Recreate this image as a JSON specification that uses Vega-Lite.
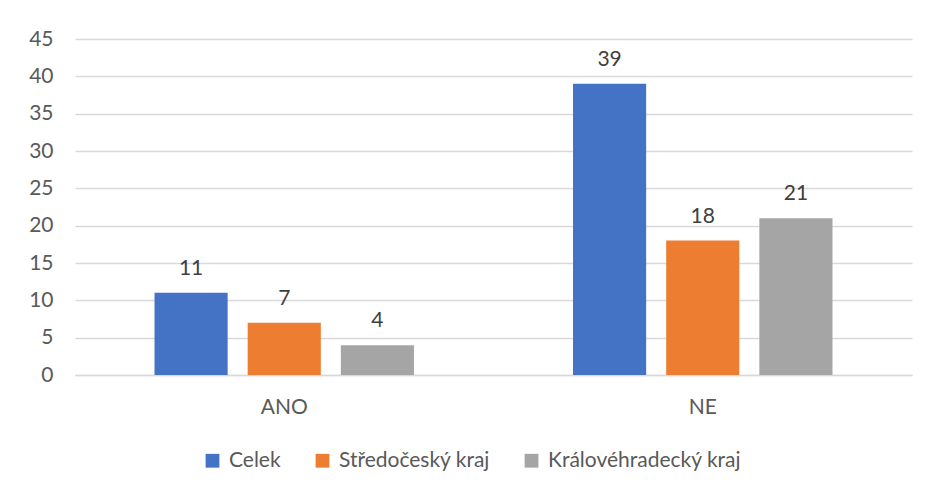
{
  "$schema": "https://vega.github.io/schema/vega-lite/v6.json",
  "autosize": "none",
  "width": 837,
  "height": 336,
  "padding": {"left": 75, "top": 39, "right": 16, "bottom": 115},
  "background": "white",
  "config": {
    "view": {"stroke": null},
    "font": "Lato",
    "axis": {"labelFont": "Lato", "labelColor": "#595959", "labelFontSize": 21, "ticks": false, "domain": false}
  },
  "data": {"values": [
    {"kat": "ANO", "serie": "Celek", "hodnota": 11},
    {"kat": "ANO", "serie": "Středočeský kraj", "hodnota": 7},
    {"kat": "ANO", "serie": "Královéhradecký kraj", "hodnota": 4},
    {"kat": "NE", "serie": "Celek", "hodnota": 39},
    {"kat": "NE", "serie": "Středočeský kraj", "hodnota": 18},
    {"kat": "NE", "serie": "Královéhradecký kraj", "hodnota": 21}
  ]},
  "encoding": {
    "x": {"field": "kat", "type": "nominal", "sort": ["ANO", "NE"],
      "scale": {"paddingInner": 0.38, "paddingOuter": 0.19},
      "axis": {"title": null, "labelAngle": 0, "labelPadding": 21, "domain": true, "domainColor": "#d9d9d9", "domainWidth": 1.5}},
    "xOffset": {"field": "serie", "type": "nominal", "sort": ["Celek", "Středočeský kraj", "Královéhradecký kraj"],
      "scale": {"paddingInner": 0.215, "paddingOuter": 0}},
    "y": {"field": "hodnota", "type": "quantitative",
      "scale": {"domain": [0, 45], "nice": false},
      "axis": {"title": null, "values": [0, 5, 10, 15, 20, 25, 30, 35, 40, 45], "gridColor": "#d9d9d9", "gridWidth": 1.5, "labelPadding": 22}}
  },
  "layer": [
    {
      "mark": {"type": "bar"},
      "encoding": {
        "color": {"field": "serie", "type": "nominal", "sort": ["Celek", "Středočeský kraj", "Královéhradecký kraj"],
          "scale": {"domain": ["Celek", "Středočeský kraj", "Královéhradecký kraj"], "range": ["#4472C4", "#ED7D31", "#A5A5A5"]},
          "legend": {"title": null, "orient": "none", "legendX": 127, "legendY": 411, "direction": "horizontal", "symbolType": "square", "symbolSize": 190,
            "labelFont": "Lato", "labelFontSize": 21, "labelColor": "#595959", "labelLimit": 400, "columnPadding": 31, "labelOffset": 6, "symbolStrokeWidth": 0}}
      }
    },
    {
      "mark": {"type": "text", "baseline": "bottom", "dy": -14, "fontSize": 21, "color": "#404040", "font": "Lato"},
      "encoding": {"text": {"field": "hodnota", "type": "quantitative"}}
    }
  ]
}
